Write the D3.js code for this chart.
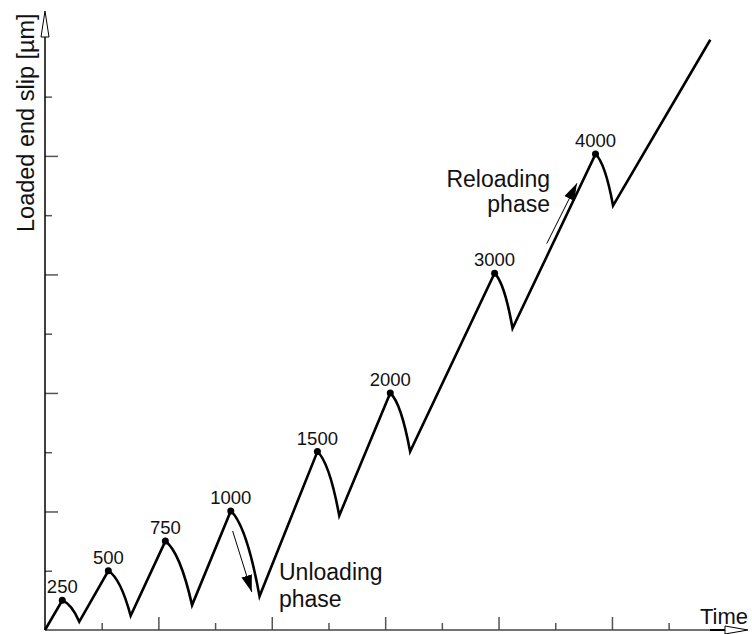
<html><head>
<script src="https://d3js.org/d3.v7.min.js"></script>
<style>
  body { margin: 0; background: white; }
  text { font-family: "Liberation Sans", Arial, sans-serif; fill: #111; }
</style>
</head>
<body>
<svg id="chart" width="752" height="634"></svg>
<script>
  // load levels at the peaks
  const loads = ["250", "500", "750", "1000", "1500", "2000", "3000", "4000"];
  // peak positions (time units, slip units = one minor tick)
  const peakT = [0.305, 1.117, 2.123, 3.277, 4.805, 6.09, 7.93, 9.71];
  const peakS = [0.50, 1.00, 1.50, 2.01, 3.01, 4.00, 6.02, 8.03];
  // end of each unloading phase
  const valleyT = [0.605, 1.511, 2.594, 3.784, 5.19, 6.44, 8.247, 10.02];
  const valleyS = [0.14, 0.24, 0.42, 0.57, 1.93, 3.01, 5.09, 7.16];
  // last reloading point
  const endT = 11.735, endS = 9.96;

  const majorTicksX = [2, 4, 6, 8, 10];
  const minorTicksX = [1, 3, 5, 7, 9, 11];
  const majorTicksY = [2, 4, 6, 8];
  const minorTicksY = [1, 3, 5, 7, 9];

  const svg = d3.select("svg#chart");
  const x = d3.scaleLinear().domain([0, 12.4]).range([45, 748]);
  const y = d3.scaleLinear().domain([0, 10.45]).range([630, 10.7]);

  // ticks
  const tickColor = "#555";
  function ticks(axis, vals, size, tr) {
    const g = svg.append("g").attr("transform", tr)
      .call(axis.tickValues(vals).tickSize(-size).tickFormat(""));
    g.select(".domain").remove();
    g.selectAll(".tick line").attr("stroke", tickColor).attr("stroke-width", 1.5);
  }
  ticks(d3.axisBottom(x), majorTicksX, 13, "translate(0," + y(0) + ")");
  ticks(d3.axisBottom(x), minorTicksX, 7, "translate(0," + y(0) + ")");
  ticks(d3.axisLeft(y), majorTicksY, 13, "translate(" + x(0) + ",0)");
  ticks(d3.axisLeft(y), minorTicksY, 7, "translate(" + x(0) + ",0)");

  // axes with open arrow heads
  const x0 = x(0), y0 = y(0);
  svg.append("line").attr("x1", x0).attr("y1", y0).attr("x2", x0).attr("y2", 37)
    .attr("stroke", "black").attr("stroke-width", 1.5);
  svg.append("path").attr("d", `M${x0},11 L${x0 + 4},37 L${x0 - 4},37 Z`)
    .attr("fill", "white").attr("stroke", "black").attr("stroke-width", 1);
  svg.append("line").attr("x1", x0).attr("y1", y0).attr("x2", 725).attr("y2", y0)
    .attr("stroke", "#444").attr("stroke-width", 1.5);
  svg.append("line").attr("x1", 710).attr("y1", y0).attr("x2", 725).attr("y2", y0)
    .attr("stroke", "black").attr("stroke-width", 2);
  svg.append("path").attr("d", `M748,${y0} L725,${y0 - 4} L725,${y0 + 4} Z`)
    .attr("fill", "white").attr("stroke", "black").attr("stroke-width", 1);

  // slip curve: straight reloading, curved unloading
  const p = d3.path();
  p.moveTo(x(0), y(0));
  loads.forEach((l, i) => {
    const px = x(peakT[i]), py = y(peakS[i]);
    const vx = x(valleyT[i]), vy = y(valleyS[i]);
    p.lineTo(px, py);
    p.quadraticCurveTo(px + 0.55 * (vx - px), py + 0.17 * (vy - py), vx, vy);
  });
  p.lineTo(x(endT), y(endS));
  svg.append("path").attr("d", p.toString())
    .attr("fill", "none").attr("stroke", "black").attr("stroke-width", 2.6)
    .attr("stroke-linejoin", "miter");

  svg.selectAll("circle.peak").data(loads).join("circle")
    .attr("class", "peak")
    .attr("cx", (d, i) => x(peakT[i])).attr("cy", (d, i) => y(peakS[i]))
    .attr("r", 3.5).attr("fill", "black");

  svg.selectAll("text.load").data(loads).join("text")
    .attr("class", "load")
    .attr("x", (d, i) => x(peakT[i])).attr("y", (d, i) => y(peakS[i]) - 7)
    .attr("text-anchor", "middle").attr("font-size", 18.5)
    .text(d => d);

  // annotation arrows
  svg.append("defs").append("marker")
    .attr("id", "head").attr("viewBox", "0 0 10 10").attr("refX", 10).attr("refY", 5)
    .attr("markerWidth", 17).attr("markerHeight", 17).attr("markerUnits", "userSpaceOnUse")
    .attr("orient", "auto")
    .append("path").attr("d", "M0,1.8 L10,5 L0,8.2 Z").attr("fill", "black");

  svg.append("line")
    .attr("x1", x(3.31)).attr("y1", y(1.67)).attr("x2", x(3.647)).attr("y2", y(0.64))
    .attr("stroke", "black").attr("stroke-width", 1).attr("marker-end", "url(#head)");
  svg.append("line")
    .attr("x1", x(8.85)).attr("y1", y(6.52)).attr("x2", x(9.383)).attr("y2", y(7.538))
    .attr("stroke", "black").attr("stroke-width", 1).attr("marker-end", "url(#head)");

  // texts
  svg.append("text").attr("x", 279).attr("y", 580).attr("font-size", 23).text("Unloading");
  svg.append("text").attr("x", 279).attr("y", 607).attr("font-size", 23).text("phase");
  svg.append("text").attr("x", 550).attr("y", 187).attr("font-size", 23)
    .attr("text-anchor", "end").text("Reloading");
  svg.append("text").attr("x", 550).attr("y", 212).attr("font-size", 23)
    .attr("text-anchor", "end").text("phase");
  svg.append("text").attr("x", 748).attr("y", 624).attr("font-size", 22)
    .attr("text-anchor", "end").text("Time");
  svg.append("text").attr("transform", "translate(34,232) rotate(-90)")
    .attr("font-size", 23.5).text("Loaded end slip [µm]");
</script>
</body>
</html>
